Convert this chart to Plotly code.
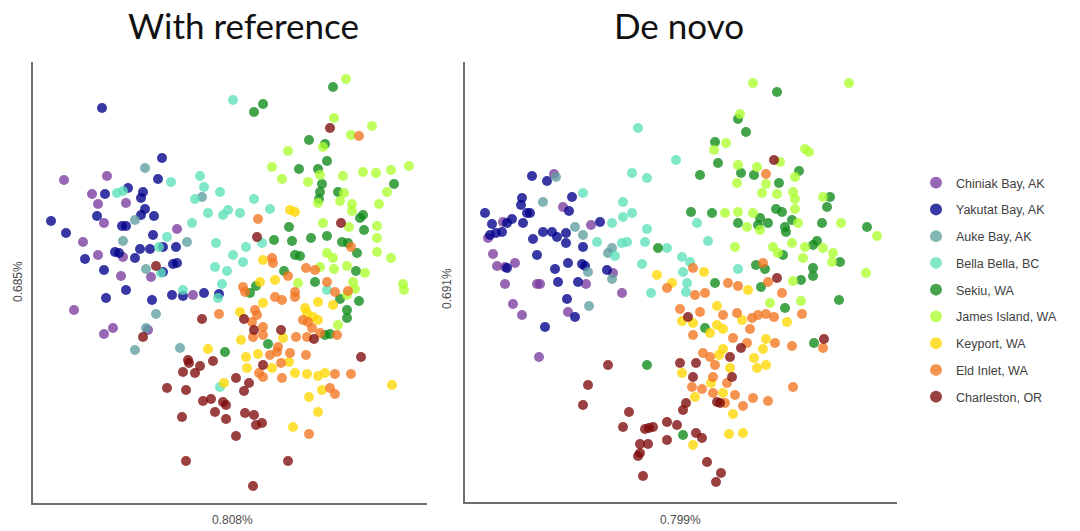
import plotly.graph_objects as go

# Sampling populations (legend order) and their colours
POPULATIONS = ["Chiniak Bay, AK", "Yakutat Bay, AK", "Auke Bay, AK", "Bella Bella, BC",
               "Sekiu, WA", "James Island, WA", "Keyport, WA", "Eld Inlet, WA", "Charleston, OR"]
COLORS = ["#7A3C9E", "#00008B", "#5F9EA0", "#5CE0BA", "#0E8A18",
          "#ADFF2F", "#FFD700", "#F27520", "#7E0A0A"]

# PCA scores (PC1, PC2), arbitrary units -- "With reference" analysis
REF_CHINIAK = [(-166, 103), (-123, 107), (-138, 89), (-132, 79), (-104, 80), (-126, 60), (-53, 54),
               (-147, 41), (-132, 28), (-107, 26), (-109, 7), (-79, 6), (-37, -12), (-156, -27),
               (-126, -51), (-117, -45), (-82, -47)]
REF_YAKUTAT = [(-128, 175), (-68, 125), (-72, 104), (-125, 89), (-102, 95), (-87, 91), (-89, 85),
               (-85, 74), (-133, 67), (-89, 68), (-76, 67), (-179, 62), (-108, 57), (-104, 57),
               (-164, 50), (-77, 48), (-115, 31), (-111, 30), (-90, 34), (-80, 34), (-67, 36),
               (-54, 36), (-145, 24), (-95, 25), (-126, 13), (-67, 11), (-57, 19), (-53, 20),
               (-104, -7), (-124, -15), (-78, -17), (-58, -12), (-47, -13), (-26, -10), (-11, -11)]
REF_AUKE = [(-85, 115), (-28, 86), (-95, 63), (-107, 42), (-43, 41), (-84, 14), (-74, -31),
            (-84, -45), (-95, -67), (-50, -65)]
REF_BELLA = [(3, 183), (-59, 101), (-30, 107), (-26, 96), (-10, 91), (-35, 84), (-113, 90), (-107, 92),
             (-22, 70), (-7, 68), (-38, 60), (-63, 46), (-14, 40), (-71, 36), (-69, 10), (-15, 16),
             (-3, 12), (-8, -1), (-47, -7), (-12, -15), (-10, -104), (24, 84), (40, 74), (-2, 73),
             (10, 70), (16, 36), (32, 40), (3, 28), (13, 21), (97, -7)]
REF_SEKIU = [(103, 196), (33, 179), (24, 171), (79, 143), (95, 139), (97, 122), (69, 114), (88, 114),
             (92, 99), (90, 91), (89, 84), (164, 99), (108, 91), (59, 56), (130, 65), (133, 68),
             (134, 53), (44, 43), (62, 42), (81, 45), (97, 47), (112, 41), (118, 40), (127, 30),
             (65, 28), (70, 27), (54, 12), (126, 12), (85, 1), (26, -3), (20, -10), (110, -16),
             (129, -18), (117, -27), (117, -35), (-5, -69), (95, -52), (100, -51), (38, -61)]
REF_JAMES = [(116, 204), (104, 165), (142, 157), (121, 148), (93, 136), (58, 132), (42, 116), (52, 104),
             (90, 108), (113, 107), (78, 101), (88, 80), (133, 111), (146, 110), (161, 113), (179, 117),
             (157, 91), (114, 90), (110, 82), (122, 79), (122, 72), (149, 79), (93, 60), (119, 56),
             (147, 57), (147, 45), (147, 31), (161, 25), (97, 30), (103, 25), (90, 16), (104, 14),
             (117, 17), (135, 10), (68, 0), (123, 1), (117, -12), (125, -6), (173, -1), (174, -7),
             (108, -42)]
REF_KEYPORT = [(60, 73), (65, 71), (33, 23), (30, 1), (45, 3), (33, -20), (88, -19), (103, -22),
               (75, -25), (77, -30), (10, -29), (83, -34), (88, -37), (11, -57), (53, -55), (16, -74),
               (28, -71), (17, -85), (42, -85), (59, -79), (65, -90), (77, -91), (88, -93), (95, -90),
               (162, -102), (-6, -100), (79, -114), (92, -107), (88, -129), (63, -144), (-22, -66)]
REF_ELD = [(129, 147), (28, 64), (121, 36), (42, 25), (43, 20), (76, 15), (85, 13), (58, 7), (97, 1),
           (13, -4), (15, -9), (65, -9), (65, -14), (45, -14), (52, -17), (105, -9), (118, -8),
           (73, -37), (78, -39), (25, -27), (27, -32), (22, -39), (33, -44), (82, -45), (90, -50),
           (107, -52), (23, -54), (33, -52), (48, -64), (47, -69), (66, -54), (77, -54), (40, -72),
           (60, -70), (76, -72), (29, -90), (33, -94), (51, -80), (52, -95), (105, -91), (121, -91),
           (100, -105), (105, -111), (79, -151), (-11, -31)]
REF_CHARLESTON = [(100, 155), (-74, 17), (27, 46), (111, 60), (-28, -36), (-87, -54), (-42, -77),
                  (-41, -80), (-17, -78), (-30, -83), (-47, -89), (-35, -90), (-63, -105), (-44, -107),
                  (-27, -118), (-19, -116), (-7, -119), (-4, -122), (-15, -129), (-4, -136), (-48, -134),
                  (-44, -178), (14, -36), (24, -47), (51, -47), (84, -56), (33, -82), (131, -74),
                  (6, -95), (19, -100), (14, -108), (15, -130), (24, -132), (26, -142), (32, -140),
                  (6, -153), (58, -178), (23, -203)]

# PCA scores (PC1, PC2), arbitrary units -- "De novo" analysis
DN_CHINIAK = [(-127, 108), (-118, 75), (-178, 60), (-90, 57), (-193, 44), (-188, 28), (-184, 16),
              (-176, 15), (-166, 19), (-176, -2), (-144, -2), (-141, -2), (-95, -2), (-68, 9),
              (-59, -11), (-168, -22), (-159, -33), (-113, -30), (-142, -75)]
DN_YAKUTAT = [(-149, 106), (-134, 101), (-109, 85), (-159, 84), (-160, 77), (-154, 69), (-151, 69),
              (-112, 71), (-196, 69), (-169, 63), (-174, 59), (-189, 58), (-158, 59), (-81, 60),
              (-179, 50), (-185, 49), (-191, 47), (-138, 50), (-129, 50), (-124, 45), (-115, 49),
              (-148, 43), (-115, 39), (-98, 35), (-144, 27), (-174, 14), (-113, 19), (-99, 18),
              (-96, 16), (-126, 13), (-74, 12), (-123, 0), (-103, 0), (-114, -17), (-106, -35),
              (-136, -45)]
DN_AUKE = [(-125, 105), (-138, 80), (-106, 55), (-98, 47), (-69, 34), (-73, 29), (-93, 10), (-69, 3),
           (-92, -24)]
DN_BELLA = [(-43, 154), (-5, 122), (-49, 109), (-34, 104), (-98, 89), (-58, 80), (-58, 65), (-49, 69),
            (-69, 59), (-34, 53), (-84, 40), (-59, 39), (-54, 40), (-36, 40), (-66, 26), (-39, 18),
            (-14, 34), (1, 25), (9, 20), (2, 10), (6, -1), (-30, -11), (5, -10), (16, 59), (27, 41),
            (57, 13)]
DN_SEKIU = [(-23, 34), (10, 70), (96, 190), (57, 163), (65, 150), (34, 140), (37, 119), (118, 111),
            (60, 109), (73, 107), (98, 99), (149, 85), (146, 75), (19, 107), (31, 69), (95, 73),
            (101, 70), (111, 62), (79, 64), (87, 59), (77, 57), (57, 59), (104, 55), (105, 50),
            (141, 59), (186, 55), (136, 41), (132, 37), (102, 27), (159, 20), (75, 17), (84, 13),
            (132, 14), (132, 6), (120, 2), (34, -1), (80, -5), (158, -18), (104, -26), (24, -46),
            (133, -61), (-34, -83), (2, -153)]
DN_JAMES = [(72, 199), (168, 199), (59, 168), (45, 139), (33, 132), (57, 117), (99, 120), (124, 133),
            (128, 130), (76, 115), (114, 105), (56, 99), (85, 98), (81, 89), (96, 88), (112, 90),
            (114, 83), (142, 85), (44, 69), (57, 70), (72, 69), (114, 73), (117, 59), (66, 55),
            (79, 52), (160, 59), (196, 46), (54, 35), (92, 35), (111, 39), (124, 35), (97, 29),
            (142, 34), (152, 29), (151, 20), (185, 9), (122, 24), (112, 1), (89, -21), (120, -19)]
DN_KEYPORT = [(-24, 7), (-9, -1), (1, -39), (1, -91), (23, 10), (67, -8), (106, -40), (36, -24),
              (12, -41), (29, -51), (36, -43), (42, -47), (61, -38), (85, -57), (82, -67), (42, -67),
              (38, -73), (73, -76), (76, -86), (85, -83), (49, -86), (30, -101), (14, -115), (42, -111),
              (52, -132), (12, -163), (48, -152), (62, -151)]
DN_ELD = [(85, 108), (-14, -6), (-1, -27), (82, 19), (12, 14), (87, 0), (47, -1), (57, -4), (101, -11),
          (121, -32), (14, -13), (24, -11), (19, -30), (42, -33), (56, -31), (71, -36), (77, -33),
          (85, -32), (93, -35), (69, -47), (12, -53), (94, -61), (111, -64), (142, -66), (52, -56),
          (66, -61), (22, -71), (29, -75), (34, -83), (32, -95), (46, -101), (11, -105), (21, -107),
          (112, -105), (32, -111), (54, -113), (72, -116), (87, -119), (44, -121), (62, -124)]
DN_CHARLESTON = [(93, 122), (7, -35), (-73, -83), (-1, -81), (15, -81), (-93, -103), (-98, -123),
                 (-52, -130), (-58, -145), (-36, -147), (-32, -146), (-28, -145), (-14, -140),
                 (-4, -143), (5, -121), (2, -128), (-14, -158), (-41, -162), (-33, -162), (-43, -174),
                 (-41, -171), (-38, -194), (96, 4), (143, -57), (60, -66), (49, -75), (12, -95),
                 (51, -95), (36, -120), (39, -121), (15, -151), (21, -156), (26, -180), (40, -191),
                 (35, -200)]

REF_GROUPS = [REF_CHINIAK, REF_YAKUTAT, REF_AUKE, REF_BELLA, REF_SEKIU,
              REF_JAMES, REF_KEYPORT, REF_ELD, REF_CHARLESTON]
DN_GROUPS = [DN_CHINIAK, DN_YAKUTAT, DN_AUKE, DN_BELLA, DN_SEKIU,
             DN_JAMES, DN_KEYPORT, DN_ELD, DN_CHARLESTON]

PANEL_TITLES = ["With reference", "De novo"]
PC1_LABELS = ["0.808%", "0.799%"]
PC2_LABELS = ["0.685%", "0.691%"]

fig = go.Figure()

for panel, groups in enumerate([REF_GROUPS, DN_GROUPS]):
    xa = "x" if panel == 0 else "x2"
    ya = "y" if panel == 0 else "y2"
    for name, color, pts in zip(POPULATIONS, COLORS, groups):
        fig.add_trace(go.Scatter(
            x=[p[0] for p in pts], y=[p[1] for p in pts],
            mode="markers", name=name, legendgroup=name,
            showlegend=(panel == 0),
            marker=dict(size=10, color=color, opacity=0.78, line=dict(width=0)),
            xaxis=xa, yaxis=ya, hoverinfo="skip",
        ))

axis_style = dict(showline=True, linecolor="#6e6e6e", linewidth=2, showgrid=False,
                  zeroline=False, ticks="", showticklabels=False, mirror=False)

fig.update_layout(
    width=1080, height=531,
    margin=dict(l=0, r=0, t=0, b=0),
    paper_bgcolor="white", plot_bgcolor="white",
    xaxis=dict(domain=[33 / 1080, 427 / 1080], range=[-197, 197], **axis_style),
    yaxis=dict(domain=[28 / 531, 469 / 531], range=[-220, 221], **axis_style),
    xaxis2=dict(domain=[465 / 1080, 897 / 1080], range=[-216, 216], anchor="y2", **axis_style),
    yaxis2=dict(domain=[29 / 531, 469 / 531], range=[-220, 220], anchor="x2", **axis_style),
    legend=dict(x=916 / 1080, y=(531 - 168) / 531, xanchor="left", yanchor="top",
                font=dict(family="Liberation Sans, Arial", size=12.5, color="#404040"),
                tracegroupgap=7.5, bgcolor="rgba(0,0,0,0)", itemsizing="constant"),
    font=dict(family="Liberation Sans, Arial"),
)

annotations = []
for cx, title in zip([243, 679], PANEL_TITLES):
    annotations.append(dict(x=cx / 1080, y=(531 - 25) / 531, xref="paper", yref="paper",
                            text=title, showarrow=False, xanchor="center", yanchor="middle",
                            font=dict(family="Lato", size=35, color="#111111")))
for cx, label in zip([232, 680], PC1_LABELS):
    annotations.append(dict(x=cx / 1080, y=(531 - 520) / 531, xref="paper", yref="paper",
                            text=label, showarrow=False, xanchor="center", yanchor="middle",
                            font=dict(family="Liberation Sans, Arial", size=12, color="#4d4d4d")))
for (cx, cy), label in zip([(18, 282), (447, 288)], PC2_LABELS):
    annotations.append(dict(x=cx / 1080, y=(531 - cy) / 531, xref="paper", yref="paper",
                            text=label, showarrow=False, xanchor="center", yanchor="middle",
                            textangle=-90,
                            font=dict(family="Liberation Sans, Arial", size=12, color="#4d4d4d")))
fig.update_layout(annotations=annotations)

fig.write_html("out.html")
